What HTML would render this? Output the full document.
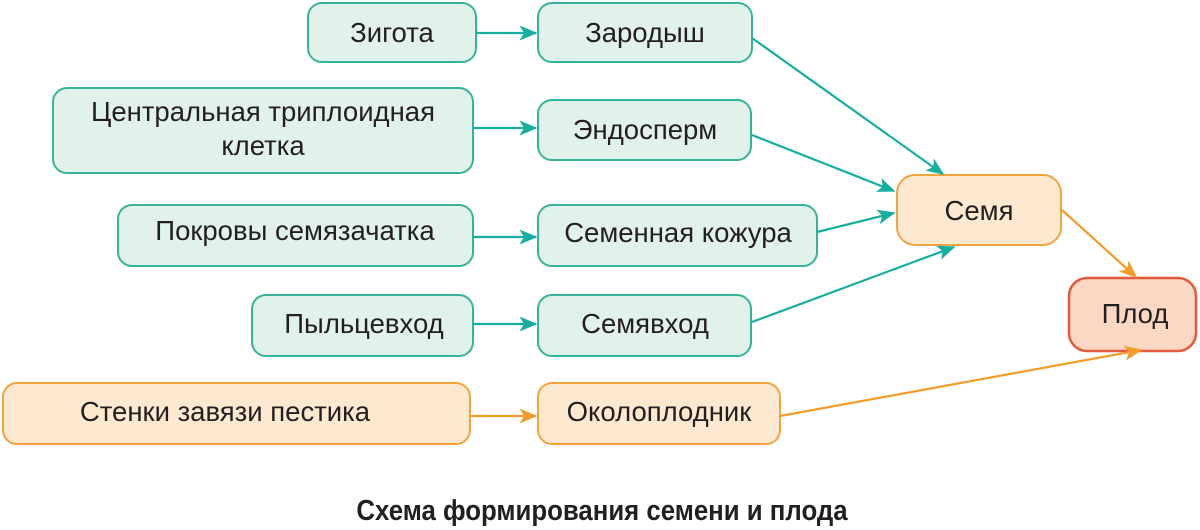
<!DOCTYPE html>
<html><head><meta charset="utf-8"><style>
body{margin:0;background:#fff;}
svg{display:block;font-family:"Liberation Sans",sans-serif;}
.g{fill:#e0f2ea;stroke:#36b49b;stroke-width:2}
.o{fill:#fde9cf;stroke:#f0a43e;stroke-width:2}
.p{fill:#fbd8c3;stroke:#e25a3c;stroke-width:2.5}
text{font-size:27.5px;fill:#231f20;text-anchor:middle}
.t{stroke:#15ae9f;stroke-width:2.2;fill:none}
.a{stroke:#f39c2a;stroke-width:2.2;fill:none}
</style></head><body>
<svg width="1200" height="530" viewBox="0 0 1200 530">
<defs>
<marker id="mt" viewBox="0 0 12 10" refX="11" refY="5" markerWidth="19" markerHeight="15" markerUnits="userSpaceOnUse" orient="auto"><path d="M0,0 L12,5 L0,10 L3,5 z" fill="#15ae9f"/></marker>
<marker id="ma" viewBox="0 0 12 10" refX="11" refY="5" markerWidth="19" markerHeight="15" markerUnits="userSpaceOnUse" orient="auto"><path d="M0,0 L12,5 L0,10 L3,5 z" fill="#f39c2a"/></marker>
</defs>
<rect class="g" x="308" y="3" width="168" height="59" rx="14"/><text x="392" y="42">Зигота</text>
<rect class="g" x="538" y="3" width="214" height="59" rx="14"/><text x="645" y="42">Зародыш</text>
<rect class="g" x="53" y="88" width="420" height="85" rx="14"/><text x="263" y="121">Центральная триплоидная</text><text x="263" y="155">клетка</text>
<rect class="g" x="538" y="100" width="213" height="60" rx="14"/><text x="645" y="139">Эндосперм</text>
<rect class="g" x="118" y="205" width="355" height="61" rx="14"/><text x="295" y="240">Покровы семязачатка</text>
<rect class="g" x="538" y="205" width="279" height="61" rx="14"/><text x="678" y="242">Семенная кожура</text>
<rect class="g" x="252" y="295" width="221" height="61" rx="14"/><text x="364" y="333">Пыльцевход</text>
<rect class="g" x="538" y="295" width="213" height="61" rx="14"/><text x="645" y="333">Семявход</text>
<rect class="o" x="3" y="383" width="467" height="61" rx="14"/><text x="225" y="421">Стенки завязи пестика</text>
<rect class="o" x="538" y="383" width="242" height="61" rx="14"/><text x="659" y="421">Околоплодник</text>
<rect class="o" x="897" y="175" width="164" height="70" rx="18"/><text x="979" y="220">Семя</text>
<rect class="p" x="1069" y="278" width="127" height="73" rx="18"/><text x="1135" y="323">Плод</text>
<line class="t" x1="476" y1="33" x2="536" y2="33" marker-end="url(#mt)"/>
<line class="t" x1="473" y1="128" x2="536" y2="128" marker-end="url(#mt)"/>
<line class="t" x1="473" y1="237" x2="536" y2="237" marker-end="url(#mt)"/>
<line class="t" x1="473" y1="324" x2="536" y2="324" marker-end="url(#mt)"/>
<line class="a" x1="470" y1="416" x2="536" y2="416" marker-end="url(#ma)"/>
<line class="t" x1="752" y1="38" x2="943" y2="174" marker-end="url(#mt)"/>
<line class="t" x1="752" y1="135" x2="894" y2="191" marker-end="url(#mt)"/>
<line class="t" x1="817" y1="232" x2="894" y2="213" marker-end="url(#mt)"/>
<line class="t" x1="752" y1="322" x2="954" y2="247" marker-end="url(#mt)"/>
<line class="a" x1="1062" y1="210" x2="1136" y2="277" marker-end="url(#ma)"/>
<line class="a" x1="780" y1="416" x2="1141" y2="350" marker-end="url(#ma)"/>
<text x="602" y="520" style="font-weight:bold;font-size:29px" transform="translate(602 0) scale(0.89 1) translate(-602 0)">Схема формирования семени и плода</text>
</svg>
</body></html>
